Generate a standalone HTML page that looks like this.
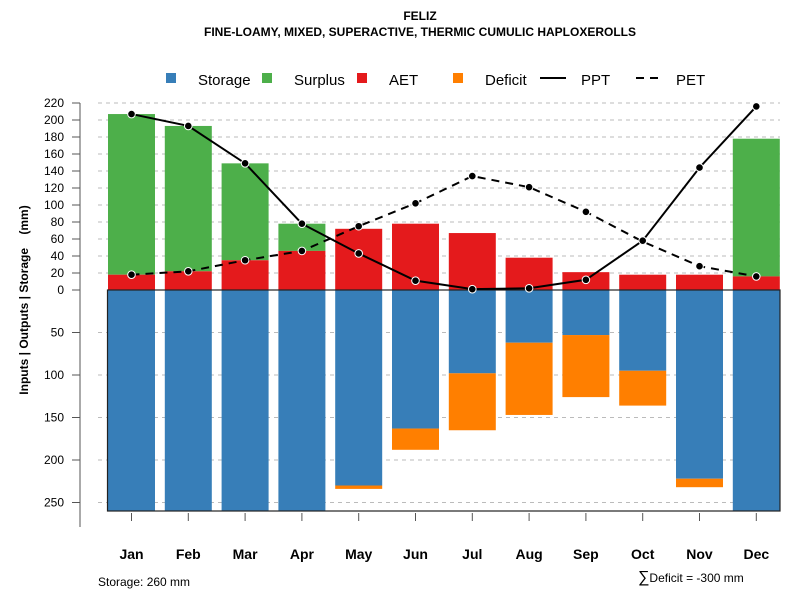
<!DOCTYPE html>
<html><head><meta charset="utf-8"><style>
body{margin:0;background:#fff;font-family:"Liberation Sans",Arial,sans-serif}
svg text{font-family:"Liberation Sans",Arial,sans-serif}
</style></head><body>
<svg id="c" width="800" height="600" xmlns="http://www.w3.org/2000/svg">
<text x="420" y="20" text-anchor="middle" font-size="12" font-weight="bold">FELIZ</text>
<text x="420" y="36" text-anchor="middle" font-size="12" font-weight="bold">FINE-LOAMY, MIXED, SUPERACTIVE, THERMIC CUMULIC HAPLOXEROLLS</text>
<g>
<rect x="166" y="73" width="10" height="10" fill="#377eb8"/>
<text x="198" y="85" font-size="15">Storage</text>
<rect x="262" y="73" width="10" height="10" fill="#4daf4a"/>
<text x="294" y="85" font-size="15">Surplus</text>
<rect x="357" y="73" width="10" height="10" fill="#e41a1c"/>
<text x="389" y="85" font-size="15">AET</text>
<rect x="453" y="73" width="10" height="10" fill="#ff7f00"/>
<text x="485" y="85" font-size="15">Deficit</text>
<line x1="540" y1="78" x2="566" y2="78" stroke="#000" stroke-width="2"/>
<text x="581" y="85" font-size="15">PPT</text>
<line x1="636" y1="78" x2="662" y2="78" stroke="#000" stroke-width="2" stroke-dasharray="8,6"/>
<text x="676" y="85" font-size="15">PET</text>
</g>
<text transform="translate(28,300) rotate(-90)" text-anchor="middle" font-size="12" font-weight="bold" style="white-space:pre">Inputs | Outputs | Storage    (mm)</text>
<text x="98" y="586" font-size="12">Storage: 260 mm</text>
<text x="638" y="582" font-size="12"><tspan font-size="16">∑</tspan>Deficit = -300 mm</text>
<g id="grid"></g><g id="bars"></g><g id="lines"></g><g id="axes"></g>
</svg>
<script>
const months=["Jan","Feb","Mar","Apr","May","Jun","Jul","Aug","Sep","Oct","Nov","Dec"];
const ppt=[207,193,149,78,43,11,1,2,12,58,144,216];
const pet=[18,22,35,46,75,102,134,121,92,57,28,16];
const aet=[18,22,35,46,72,78,67,38,21,18,18,16];
const surplusTop=[207,193,149,78,0,0,0,0,0,0,0,178];
const storage=[260,260,260,260,230,163,98,62,53,95,222,260];
const deficit=[0,0,0,0,4,25,67,85,73,41,10,0];
const upTicks=[0,20,40,60,80,100,120,140,160,180,200,220];
const downTicks=[50,100,150,200,250];
const maxStorage=260;
const NS="http://www.w3.org/2000/svg";
const y0=290,k=0.85;
function yUp(v){return y0-v*k;}
function yDown(v){return y0+v*k;}
function xC(i){return 131.5+i*56.8;}
const bw=47;
function el(t,a,p){const e=document.createElementNS(NS,t);for(const q in a)e.setAttribute(q,a[q]);document.getElementById(p).appendChild(e);return e;}
upTicks.forEach(v=>{
 if(v>0){const g=el("line",{x1:98,x2:780,y1:yUp(v),y2:yUp(v),stroke:"#bbb","stroke-dasharray":"4,4"},"grid");
 
 }
 const t=el("line",{x1:72,x2:80,y1:yUp(v),y2:yUp(v),stroke:"#555"},"axes");
 
 
 const l=el("text",{x:64,y:yUp(v)+4,"text-anchor":"end","font-size":12},"axes");l.textContent=v;
 
 
});
downTicks.forEach(v=>{
 const g=el("line",{x1:98,x2:780,y1:yDown(v),y2:yDown(v),stroke:"#bbb","stroke-dasharray":"4,4"},"grid");
 
 
 const t=el("line",{x1:72,x2:80,y1:yDown(v),y2:yDown(v),stroke:"#555"},"axes");
 
 
 const l=el("text",{x:64,y:yDown(v)+4,"text-anchor":"end","font-size":12},"axes");l.textContent=v;
 
 
});
const ax=el("line",{x1:80,x2:80,y1:yUp(220),y2:527,stroke:"#555"},"axes");


months.forEach((m,i)=>{
 const x=xC(i)-bw/2;
 const s=el("rect",{x:x,y:y0,width:bw,height:storage[i]*k,fill:"#377eb8"},"bars");
 
 
 if(deficit[i]>0){const d=el("rect",{x:x,y:yDown(storage[i]),width:bw,height:deficit[i]*k,fill:"#ff7f00"},"bars");
 
 }
 if(surplusTop[i]>aet[i]){const g=el("rect",{x:x,y:yUp(surplusTop[i]),width:bw,height:(surplusTop[i]-aet[i])*k,fill:"#4daf4a"},"bars");
 
 }
 const a=el("rect",{x:x,y:yUp(aet[i]),width:bw,height:aet[i]*k,fill:"#e41a1c"},"bars");
 
 
 const t=el("line",{x1:xC(i),x2:xC(i),y1:513,y2:521,stroke:"#555"},"axes");
 
 
 const l=el("text",{x:xC(i),y:559,"text-anchor":"middle","font-size":14,"font-weight":"bold"},"axes");l.textContent=m;
 
 
});
const box=el("rect",{x:107.5,y:y0,width:672.5,height:maxStorage*k,fill:"none",stroke:"#222","stroke-width":1.2},"bars");


function series(vals,dash,name){
 const p=el("polyline",{points:vals.map((v,i)=>xC(i)+","+yUp(v)).join(" "),fill:"none",stroke:"#000","stroke-width":2,"stroke-dasharray":dash},"lines");
 
 
 vals.forEach((v,i)=>{const c=el("circle",{cx:xC(i),cy:yUp(v),r:3.8,fill:"#000",stroke:"#fff","stroke-width":1},"lines");
 
 });
}
series(pet,"8,6","pet");
series(ppt,"none","ppt");
</script>
</body></html>
